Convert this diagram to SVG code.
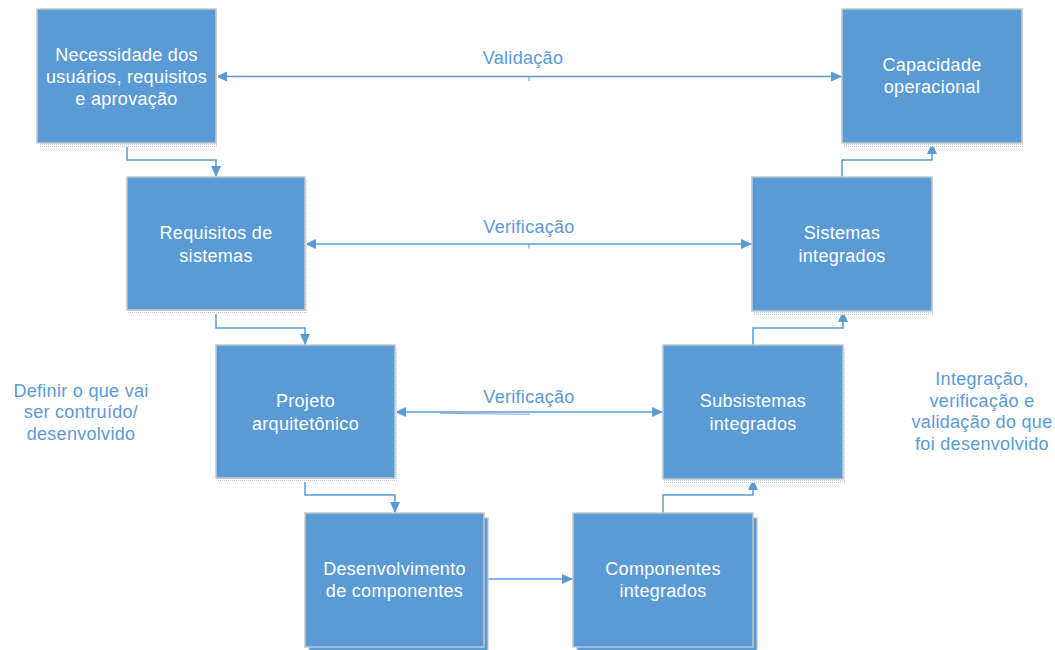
<svg xmlns="http://www.w3.org/2000/svg" width="1055" height="650" viewBox="0 0 1055 650">
<defs>
<pattern id="dots" width="2" height="2" patternUnits="userSpaceOnUse">
<rect width="2" height="2" fill="#ffffff"/>
<rect width="1" height="1" fill="#b9cde6"/>
</pattern>
<marker id="ah" viewBox="0 0 11 10" refX="11" refY="5" markerWidth="11" markerHeight="10" markerUnits="userSpaceOnUse" orient="auto-start-reverse">
<path d="M0,0 L11,5 L0,10 Z" fill="#5b9bd5"/>
</marker>
<style>
.box{fill:#5b9bd5;stroke:#c4c8cc;stroke-width:1.5}
.sh{fill:url(#dots)}
.back{fill:#5b9bd5;stroke:#c4c8cc;stroke-width:1.2}
.bt{font-family:"Liberation Sans",Arial,sans-serif;font-size:18px;letter-spacing:0.3px;fill:#ffffff;text-anchor:middle}
.lt{font-family:"Liberation Sans",Arial,sans-serif;font-size:18px;letter-spacing:0.3px;fill:#5b9bd5;text-anchor:middle}
.c{fill:none;stroke:#5b9bd5;stroke-width:1.5}
.t{fill:none;stroke:#5b9bd5;stroke-width:1}
</style>
</defs>
<rect width="1055" height="650" fill="#ffffff"/>

<g id="connectors">
<path class="c" d="M127,143 V160 H216 V177" marker-end="url(#ah)"/>
<path class="c" d="M216,310 V328 H305 V345" marker-end="url(#ah)"/>
<path class="c" d="M305,478 V495 H395 V513" marker-end="url(#ah)"/>
<path class="c" d="M484,579 H573" marker-end="url(#ah)"/>
<path class="c" d="M663,513 V495 H753 V479" marker-end="url(#ah)"/>
<path class="c" d="M753,345 V328 H843 V311" marker-end="url(#ah)"/>
<path class="c" d="M842,177 V160 H932 V143" marker-end="url(#ah)"/>
<path class="c" d="M216,76.5 H842" marker-start="url(#ah)" marker-end="url(#ah)"/>
<path class="t" d="M529,76.5 V81"/>
<path class="c" d="M305,244 H752" marker-start="url(#ah)" marker-end="url(#ah)"/>
<path class="t" d="M529,244 V248.5"/>
<path class="c" d="M395,412 H663" marker-start="url(#ah)" marker-end="url(#ah)"/>
<path d="M440,413.3 L530,414.3" fill="none" stroke="#5b9bd5" stroke-width="1" stroke-opacity="0.8"/>
</g>

<g id="labels">
<text class="lt" x="523" y="64">Validação</text>
<text class="lt" x="529" y="233">Verificação</text>
<text class="lt" x="529" y="403">Verificação</text>
</g>

<g id="n1">
<rect class="sh" x="39" y="12" width="179" height="135"/>
<rect class="box" x="37" y="9" width="179" height="134"/>
<text class="bt" x="126.5" y="61">Necessidade dos</text>
<text class="bt" x="126.5" y="83">usuários, requisitos</text>
<text class="bt" x="126.5" y="105">e aprovação</text>
</g>

<g id="n2">
<rect class="sh" x="128" y="180" width="179" height="134"/>
<rect class="box" x="127" y="177" width="178" height="133"/>
<text class="bt" x="216" y="239">Requisitos de</text>
<text class="bt" x="216" y="262">sistemas</text>
</g>

<g id="n3">
<rect class="sh" x="217" y="348" width="180" height="134"/>
<rect class="box" x="216" y="345" width="179" height="133"/>
<text class="bt" x="305.5" y="407">Projeto</text>
<text class="bt" x="305.5" y="430">arquitetônico</text>
</g>

<g id="n4">
<rect class="back" x="309" y="518" width="179" height="134"/>
<rect class="box" x="305" y="513" width="179" height="134"/>
<text class="bt" x="394.5" y="575">Desenvolvimento</text>
<text class="bt" x="394.5" y="597">de componentes</text>
</g>

<g id="n5">
<rect class="back" x="577" y="518" width="180" height="134"/>
<rect class="box" x="573" y="513" width="180" height="134"/>
<text class="bt" x="663" y="575">Componentes</text>
<text class="bt" x="663" y="597">integrados</text>
</g>

<g id="n6">
<rect class="sh" x="664" y="348" width="181" height="135"/>
<rect class="box" x="663" y="345" width="180" height="134"/>
<text class="bt" x="753" y="407">Subsistemas</text>
<text class="bt" x="753" y="430">integrados</text>
</g>

<g id="n7">
<rect class="sh" x="753" y="180" width="181" height="135"/>
<rect class="box" x="752" y="177" width="180" height="134"/>
<text class="bt" x="842" y="239">Sistemas</text>
<text class="bt" x="842" y="262">integrados</text>
</g>

<g id="n8">
<rect class="sh" x="843" y="12" width="181" height="135"/>
<rect class="box" x="842" y="9" width="180" height="134"/>
<text class="bt" x="932" y="71">Capacidade</text>
<text class="bt" x="932" y="93">operacional</text>
</g>

<g id="side-left">
<text class="lt" x="81" y="397">Definir o que vai</text>
<text class="lt" x="81" y="418">ser contruído/</text>
<text class="lt" x="81" y="440">desenvolvido</text>
</g>

<g id="side-right">
<text class="lt" x="982" y="385">Integração,</text>
<text class="lt" x="982" y="407">verificação e</text>
<text class="lt" x="982" y="428">validação do que</text>
<text class="lt" x="982" y="450">foi desenvolvido</text>
</g>
</svg>
